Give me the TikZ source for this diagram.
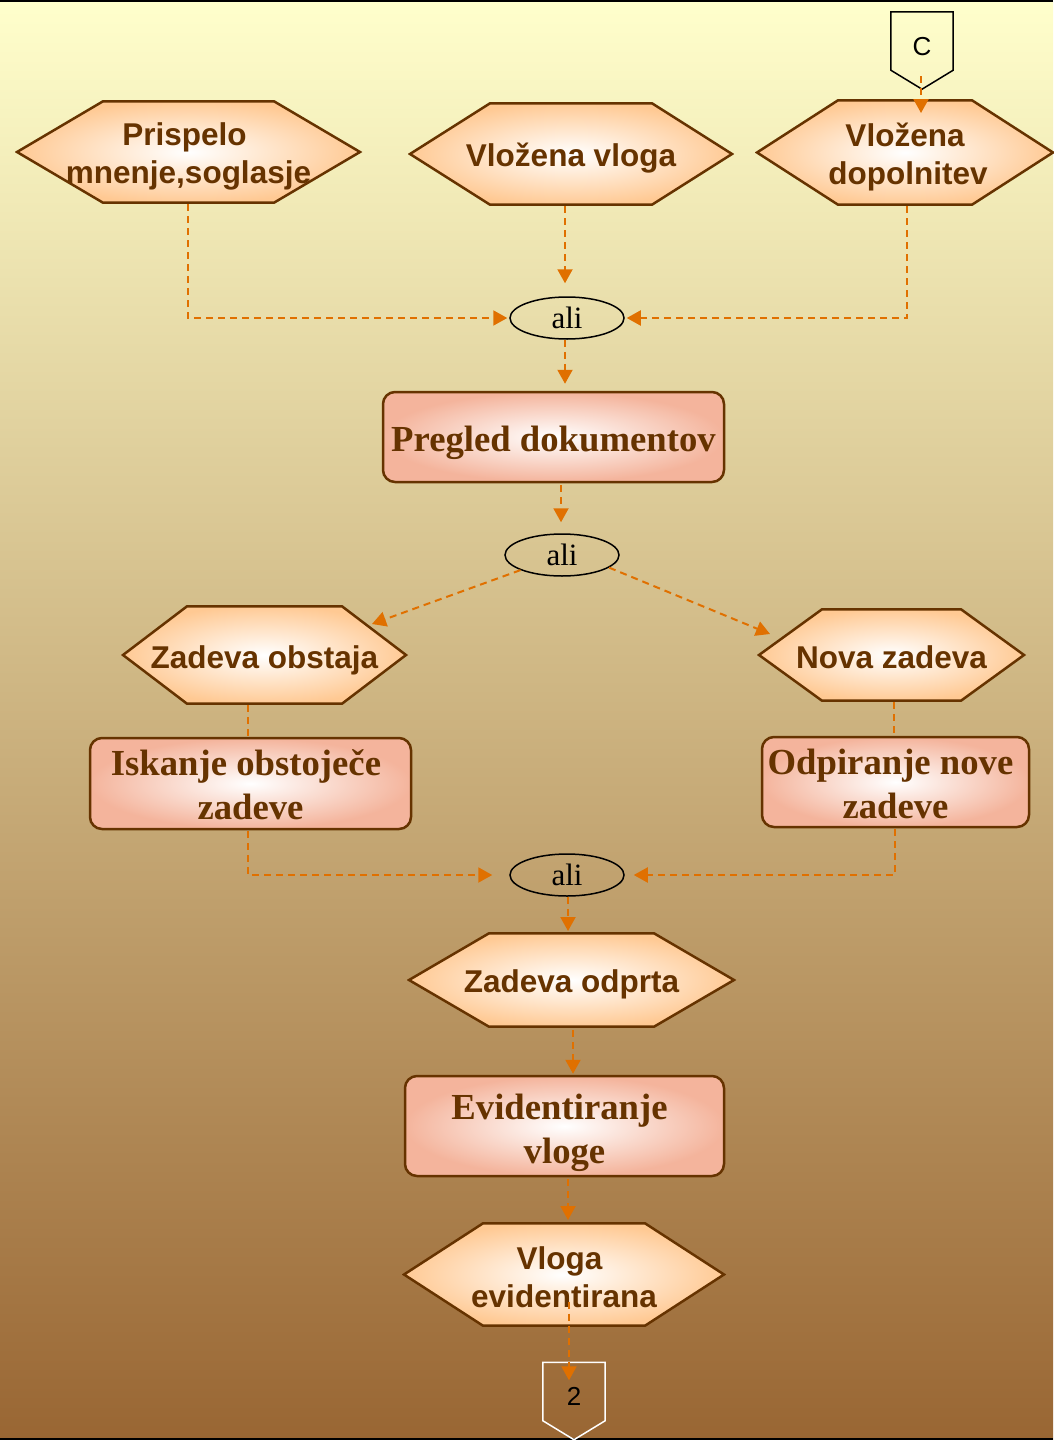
\documentclass[tikz,border=0pt]{standalone}
\usepackage{fontspec}
\usetikzlibrary{arrows.meta,calc,shapes.geometric}
\newfontfamily\hexfont{Liberation Sans}
\newfontfamily\boxfont{Liberation Serif}
\newfontfamily\alifont{Liberation Serif}
\newfontfamily\labfont{Liberation Sans}

\definecolor{bgtop}{HTML}{FFFFCC}
\definecolor{bgbot}{HTML}{996633}
\definecolor{linebrown}{HTML}{663300}
\definecolor{txtbrown}{HTML}{663300}
\definecolor{peach}{HTML}{FFC993}
\definecolor{salmon}{HTML}{F4B49C}
\definecolor{arrowc}{HTML}{E07000}

\begin{document}
\begin{tikzpicture}[x=1pt,y=-1pt,
  hexdepth/.store in=\hexdepth, hexdepth=80pt,
  hexnode/.style={rectangle, inner sep=0pt, outer sep=0pt,
    path picture={
      \shade[draw=linebrown, line width=2.5pt, line join=miter,
             inner color=white, outer color=peach]
        ($(path picture bounding box.west)+(2pt,0pt)$)
        -- ($(path picture bounding box.north west)+(\hexdepth,-1.3pt)$)
        -- ($(path picture bounding box.north east)+(-\hexdepth,-1.3pt)$)
        -- ($(path picture bounding box.east)+(-2pt,0pt)$)
        -- ($(path picture bounding box.south east)+(-\hexdepth,1.3pt)$)
        -- ($(path picture bounding box.south west)+(\hexdepth,1.3pt)$)
        -- cycle;
    }},
  hextext/.style={inner sep=0pt, align=center, text=txtbrown,
    font=\hexfont\bfseries\fontsize{31.5}{38}\selectfont},
  taskbox/.style={rectangle, rounded corners=12pt, draw=linebrown, line width=2.5pt,
    inner color=white, outer color=salmon, inner sep=0pt},
  tasktext/.style={inner sep=0pt, align=center, text=txtbrown,
    font=\boxfont\bfseries\fontsize{36.7}{44}\selectfont},
  orgate/.style={ellipse, draw=black, line width=1.5pt, inner sep=0pt,
    minimum width=114pt, minimum height=42pt, font=\alifont\fontsize{31}{36}\selectfont},
  offpage/.style={rectangle, inner sep=0pt, minimum width=62pt, minimum height=58pt,
    text height=28pt, text depth=0pt, font=\labfont\fontsize{26}{30}\selectfont},
  flow/.style={draw=arrowc, line width=2pt, dash pattern=on 7pt off 5pt},
  arr/.style={flow, -{Triangle[length=14pt,width=15pt]}}
]
\useasboundingbox (0,0) rectangle (1053,1440);
% background
\shade[top color=bgtop, bottom color=bgbot] (0,0) rectangle (1053,1440);
\draw[black, line width=2pt] (0,1) -- (1053,1);
\draw[black, line width=2pt] (0,1439) -- (1053,1439);

% off-page connectors
\node[offpage] (C) at (922,41) {C};
\draw[black, line width=1.5pt] (C.north west) -- (C.north east) -- (C.south east)
  -- ($(C.south)+(0pt,-19pt)$) -- (C.south west) -- cycle;
\node[offpage] (two) at (574,1391.5) {2};
\draw[white, line width=1.5pt] (two.north west) -- (two.north east) -- (two.south east)
  -- ($(two.south)+(0pt,-19pt)$) -- (two.south west) -- cycle;

% events (hexagons)
\node[hexnode, hexdepth=88pt, minimum width=347pt, minimum height=104pt]
  (prispelo) at (188.5,152) {};
\node[hextext] (prispelo-t) at ($(prispelo)+(0,4)$) {Prispelo\kern8pt\\mnenje,soglasje};
\node[hexnode, hexdepth=82pt, minimum width=326pt, minimum height=104pt]
  (vloga) at (571,154) {};
\node[hextext] (vloga-t) at ($(vloga)+(0,4)$) {Vložena vloga};
\node[hexnode, hexdepth=83pt, minimum width=300pt, minimum height=107pt]
  (dopol) at (905,152.5) {};
\node[hextext] (dopol-t) at ($(dopol)+(3,5)$) {Vložena\kern6pt\\dopolnitev};
\node[hexnode, hexdepth=66pt, minimum width=287pt, minimum height=100pt]
  (obstaja) at (264.5,655) {};
\node[hextext] (obstaja-t) at ($(obstaja)+(0,5)$) {Zadeva obstaja};
\node[hexnode, hexdepth=65pt, minimum width=269pt, minimum height=94pt]
  (nova) at (891.5,655) {};
\node[hextext] (nova-t) at ($(nova)+(0,2)$) {Nova zadeva};
\node[hexnode, hexdepth=82pt, minimum width=329pt, minimum height=96pt]
  (odprta) at (571.5,980) {};
\node[hextext] (odprta-t) at ($(odprta)+(0,4)$) {Zadeva odprta};
\node[hexnode, hexdepth=81pt, minimum width=324pt, minimum height=105pt]
  (vlogaev) at (564,1274.5) {};
\node[hextext] (vlogaev-t) at ($(vlogaev)+(0,2.5)$) {Vloga\kern9pt\\evidentirana};

% functions (rounded boxes)
\node[taskbox, minimum width=341pt, minimum height=90pt]
  (pregled) at (553.5,437) {};
\node[tasktext] (pregled-t) at ($(pregled)+(0,6)$) {Pregled dokumentov};
\node[taskbox, minimum width=321pt, minimum height=91pt]
  (iskanje) at (250.5,783.5) {};
\node[tasktext] (iskanje-t) at ($(iskanje)+(0,1.5)$) {Iskanje obstoječe\kern9pt\\zadeve};
\node[taskbox, minimum width=267pt, minimum height=90pt]
  (odpiranje) at (895.5,782) {};
\node[tasktext] (odpiranje-t) at ($(odpiranje)+(0,1.5)$) {Odpiranje nove\kern10pt\\zadeve};
\node[taskbox, minimum width=319pt, minimum height=100pt]
  (evid) at (564.5,1126) {};
\node[tasktext] (evid-t) at ($(evid)+(0,7)$) {Evidentiranje\kern10pt\\vloge};

% connectors (or)
\node[orgate] (ali1) at (567,318) {ali};
\node[orgate] (ali2) at (562,555) {ali};
\node[orgate] (ali3) at (567,875) {ali};

% control flow
\draw[arr] ($(C.south)+(-1pt,-6pt)$) -- ($(C.south |- dopol.north)+(-1pt,-14pt)$);
\draw[arr] ($(prispelo.south)+(-0.5pt,0pt)$) |- ($(ali1.west)+(-2pt,0pt)$);
\draw[arr] ($(vloga.south)+(-6pt,0pt)$) -- ($(ali1.north)+(-2pt,13pt)$);
\draw[arr] ($(dopol.south)+(2pt,0pt)$) |- ($(ali1.east)+(2pt,0pt)$);
\draw[arr] ($(ali1.south)+(-2pt,0pt)$) -- ($(ali1.south)+(-2pt,-44pt)$);
\draw[arr] ($(pregled.south)+(7.5pt,-2pt)$) -- ($(ali2.north)+(-1pt,11pt)$);
\draw[arr] (ali2.-160) -- ($(obstaja.north east)+(-36pt,-19pt)$);
\draw[arr] (ali2.-15) -- ($(nova.north west)+(13pt,-26pt)$);
\draw[flow] ($(obstaja.south)+(-16.5pt,0pt)$) -- ($(iskanje.north)+(-2.5pt,0pt)$);
\draw[flow] ($(nova.south)+(2.5pt,0pt)$) -- ($(odpiranje.north)+(-1.5pt,0pt)$);
\draw[arr] ($(iskanje.south)+(-2.5pt,-1pt)$) |- ($(ali3.west)+(-17pt,0pt)$);
\draw[arr] ($(odpiranje.south)+(-0.5pt,-1pt)$) |- ($(ali3.east)+(9pt,0pt)$);
\draw[arr] ($(ali3.south)+(1pt,0pt)$) -- ($(ali3.south |- odprta.north)+(1pt,1pt)$);
\draw[arr] ($(odprta.south)+(1.5pt,-2pt)$) -- ($(odprta.south |- evid.north)+(1.5pt,1pt)$);
\draw[arr] ($(evid.south)+(3.5pt,-2pt)$) -- ($(evid.south |- vlogaev.north)+(3.5pt,2pt)$);
\draw[arr] ($(vlogaev.center)+(5pt,-27pt)$) -- ($(two.north)+(-5pt,-18pt)$);
\end{tikzpicture}
\end{document}
